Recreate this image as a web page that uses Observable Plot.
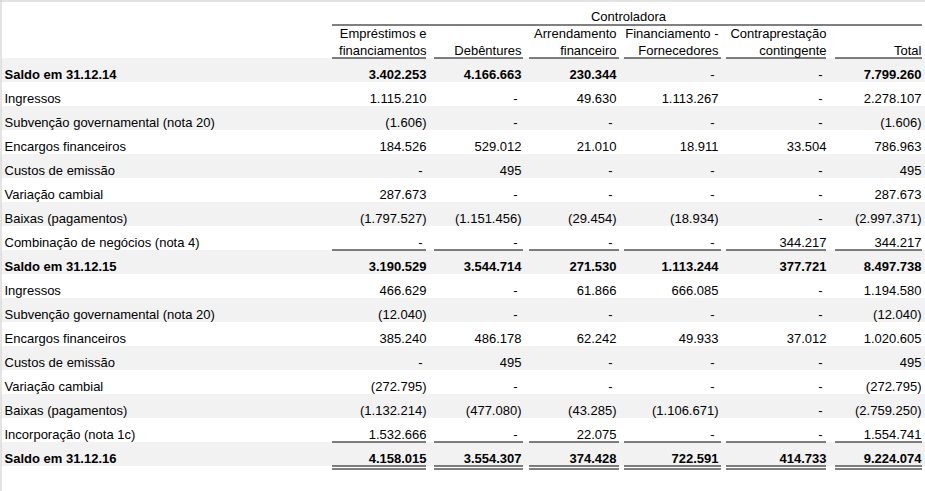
<!DOCTYPE html>
<html>
<head>
<meta charset="utf-8">
<script src="https://cdn.jsdelivr.net/npm/d3@7"></script>
<script src="https://cdn.jsdelivr.net/npm/@observablehq/plot@0.6"></script>
<style>
  html, body { margin: 0; padding: 0; background: #ffffff; }
  #chart svg { display: block; }
</style>
</head>
<body>
<div id="chart"></div>
<script>
// ---------- data ----------
const groupTitle = "Controladora";
const colHeaders = [
  "Empréstimos e\nfinanciamentos",
  "Debêntures",
  "Arrendamento\nfinanceiro",
  "Financiamento -\nFornecedores",
  "Contraprestação\ncontingente",
  "Total"
];
const rowLabels = [
  "Saldo em 31.12.14",
  "Ingressos",
  "Subvenção governamental (nota 20)",
  "Encargos financeiros",
  "Custos de emissão",
  "Variação cambial",
  "Baixas (pagamentos)",
  "Combinação de negócios (nota 4)",
  "Saldo em 31.12.15",
  "Ingressos",
  "Subvenção governamental (nota 20)",
  "Encargos financeiros",
  "Custos de emissão",
  "Variação cambial",
  "Baixas (pagamentos)",
  "Incorporação (nota 1c)",
  "Saldo em 31.12.16"
];
const emprestimos    = [3402253, 1115210, -1606, 184526, 0, 287673, -1797527, 0, 3190529, 466629, -12040, 385240, 0, -272795, -1132214, 1532666, 4158015];
const debentures     = [4166663, 0, 0, 529012, 495, 0, -1151456, 0, 3544714, 0, 0, 486178, 495, 0, -477080, 0, 3554307];
const arrendamento   = [230344, 49630, 0, 21010, 0, 0, -29454, 0, 271530, 61866, 0, 62242, 0, 0, -43285, 22075, 374428];
const fornecedores   = [0, 1113267, 0, 18911, 0, 0, -18934, 0, 1113244, 666085, 0, 49933, 0, 0, -1106671, 0, 722591];
const contingente    = [0, 0, 0, 33504, 0, 0, 0, 344217, 377721, 0, 0, 37012, 0, 0, 0, 0, 414733];
const total          = [7799260, 2278107, -1606, 786963, 495, 287673, -2997371, 344217, 8497738, 1194580, -12040, 1020605, 495, -272795, -2759250, 1554741, 9224074];
const balanceRows = [0, 8, 16];          // bold "Saldo" rows
const subtotalRuleRows = [8, 16];        // single rule above these rows
const totalRuleRow = 17;                 // double rule below last row

// ---------- layout (pixels) ----------
const W = 925, H = 491;
const layout = {
  bodyTop: 58, bodyBottom: 466,
  labelX: 4,
  valueRight: [426, 521, 616, 718, 826, 921],
  ruleLeft:   [332, 434, 529, 624, 726, 835],
  ruleRight:  [426, 523, 619, 721, 826, 922],
  groupX: 628,
  groupRule: [332, 922]
};
const rowH = (layout.bodyBottom - layout.bodyTop) / rowLabels.length;
const pxToRow = px => (px - layout.bodyTop) / rowH;

// ---------- build ----------
const series = [emprestimos, debentures, arrendamento, fornecedores, contingente, total];
const loc = d3.formatLocale({decimal: ",", thousands: ".", grouping: [3], currency: ["", ""]});
const f = loc.format(",d");
const fmt = v => v === 0 ? "-" : v < 0 ? "(" + f(-v) + ")" : f(v);

const cells = [];
series.forEach((vals, c) => vals.forEach((v, r) => cells.push({
  x: layout.valueRight[c], row: r, v, text: fmt(v), bold: balanceRows.includes(r)
})));
const labels = rowLabels.map((t, r) => ({t, row: r, bold: balanceRows.includes(r)}));
const grayRows = rowLabels.map((_, r) => r).filter(r => r % 2 === 0);
const headerLines = [];
colHeaders.forEach((h, c) => {
  const parts = h.split("\n");
  const n = parts.length;
  parts.forEach((p, k) => headerLines.push({x: layout.valueRight[c], t: p, line: 2 - n + k}));
});
const segs = row => layout.ruleLeft.map((x1, c) => ({x1, x2: layout.ruleRight[c], row}));
const singleRules = [segs(0), ...subtotalRuleRows.map(segs), segs(totalRuleRow)].flat();
const doubleRules = segs(totalRuleRow);

const font = "Arial, 'Liberation Sans', sans-serif";
const textY = d => d.row + 16 / rowH;

const chart = Plot.plot({
  width: W, height: H,
  margin: 0,
  x: {domain: [0, W], range: [0, W], axis: null},
  y: {domain: [0, rowLabels.length], range: [layout.bodyTop, layout.bodyBottom], axis: null},
  style: {fontFamily: font, fontSize: "13px", background: "#ffffff", color: "#000"},
  marks: [
    Plot.rect(grayRows, {x1: 1, x2: W, y1: d => d, y2: d => d + 1, fill: "#f2f2f2"}),
    // sheet edges
    Plot.ruleX([0.5], {y1: pxToRow(0), y2: pxToRow(H), stroke: "#c8c8c8"}),
    Plot.ruleY([pxToRow(0.5)], {x1: 0, x2: W, stroke: "#c8c8c8"}),
    // group title
    Plot.text([groupTitle], {x: layout.groupX, y: pxToRow(16), text: d => d, fontSize: 13, fill: "#000"}),
    Plot.ruleY([pxToRow(24.5)], {x1: layout.groupRule[0], x2: layout.groupRule[1], stroke: "#000"}),
    // column headers
    Plot.text(headerLines, {x: "x", y: d => pxToRow(d.line === 0 ? 33 : 50), text: "t", textAnchor: "end", fontSize: 13, fill: "#000"}),
    // rules
    Plot.ruleY(singleRules, {y: "row", x1: "x1", x2: "x2", dy: -0.5, stroke: "#000"}),
    Plot.ruleY(doubleRules, {y: "row", x1: "x1", x2: "x2", dy: 2.5, stroke: "#000"}),
    // row labels
    Plot.text(labels.filter(d => !d.bold), {x: layout.labelX, y: textY, text: "t", textAnchor: "start", fontSize: 13, fill: "#000"}),
    Plot.text(labels.filter(d => d.bold), {x: layout.labelX, y: textY, text: "t", textAnchor: "start", fontSize: 13, fontWeight: "bold", fill: "#000"}),
    // values
    Plot.text(cells.filter(d => d.v !== 0 && !d.bold), {x: "x", y: textY, text: "text", textAnchor: "end", fontSize: 13, fill: "#000"}),
    Plot.text(cells.filter(d => d.v !== 0 && d.bold), {x: "x", y: textY, text: "text", textAnchor: "end", fontSize: 13, fontWeight: "bold", fill: "#000"}),
    Plot.text(cells.filter(d => d.v === 0), {x: "x", y: textY, text: "text", textAnchor: "end", dx: -4, fontSize: 13, fill: "#000"})
  ]
});
document.getElementById("chart").appendChild(chart);
</script>
</body>
</html>
